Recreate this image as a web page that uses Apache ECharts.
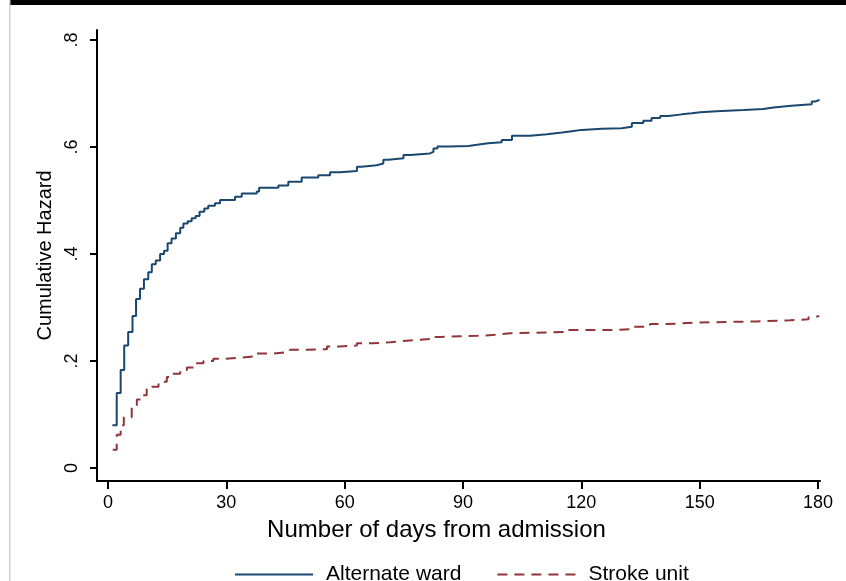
<!DOCTYPE html>
<html>
<head>
<meta charset="utf-8">
<script src="https://cdn.jsdelivr.net/npm/echarts@6/dist/echarts.min.js"></script>
<style>html,body{margin:0;padding:0;background:#fff;}#c{width:846px;height:581px;}</style>
</head>
<body>
<div id="c"></div>
<script>
const seriesNames = ['Alternate ward', 'Stroke unit'];
const blueDays = [1.1, 2.2, 3.2, 4.1, 5.1, 6.2, 7.1, 8.1, 9.1, 10.2, 11.1, 12.1, 13.2, 14.2, 15.1, 16.1, 17.2, 18.3, 19.1, 20.2, 21.2, 22.2, 23.2, 24.4, 25.4, 27.1, 28.4, 32.2, 33.9, 37.7, 38.3, 43.2, 45.7, 49.1, 53.3, 56.3, 58.8, 63.1, 64.3, 68.1, 69.8, 71.1, 74.9, 76.6, 81.6, 82.5, 83.5, 86.3, 91.4, 93.5, 96.4, 99.8, 102.4, 107.0, 111.3, 115.1, 117.1, 120.1, 125.2, 130.2, 132.8, 135.7, 137.8, 140.0, 142.1, 145.5, 148.0, 150.1, 154.3, 161.1, 166.1, 168.7, 173.2, 178.4, 179.3, 180.4];
const blueVals = [0.080, 0.140, 0.183, 0.229, 0.254, 0.284, 0.316, 0.335, 0.353, 0.366, 0.381, 0.388, 0.400, 0.406, 0.420, 0.429, 0.439, 0.449, 0.457, 0.461, 0.467, 0.471, 0.479, 0.485, 0.490, 0.495, 0.501, 0.507, 0.513, 0.517, 0.524, 0.528, 0.535, 0.543, 0.547, 0.553, 0.555, 0.563, 0.566, 0.569, 0.576, 0.579, 0.585, 0.588, 0.591, 0.597, 0.601, 0.602, 0.604, 0.607, 0.609, 0.613, 0.621, 0.624, 0.627, 0.629, 0.632, 0.634, 0.635, 0.638, 0.645, 0.649, 0.654, 0.658, 0.661, 0.663, 0.665, 0.667, 0.669, 0.671, 0.674, 0.677, 0.680, 0.685, 0.688, 0.688];
const redDays = [1.2, 2.2, 3.2, 4.0, 6.0, 7.3, 8.3, 9.8, 11.1, 12.8, 14.9, 16.2, 18.3, 20.0, 22.1, 24.2, 26.7, 29.2, 33.5, 37.7, 41.9, 46.1, 50.4, 55.5, 58.8, 63.1, 67.2, 71.5, 75.7, 81.6, 84.2, 93.5, 98.6, 101.9, 115.4, 129.0, 133.2, 137.4, 141.6, 150.1, 164.5, 172.9, 177.6, 179.0, 180.3];
const redVals = [0.034, 0.062, 0.080, 0.095, 0.116, 0.128, 0.136, 0.147, 0.152, 0.161, 0.170, 0.176, 0.183, 0.188, 0.196, 0.200, 0.204, 0.206, 0.209, 0.214, 0.217, 0.221, 0.222, 0.227, 0.229, 0.233, 0.235, 0.238, 0.241, 0.245, 0.247, 0.249, 0.252, 0.254, 0.258, 0.260, 0.264, 0.269, 0.272, 0.274, 0.276, 0.278, 0.282, 0.284, 0.284];
const xTickVals = [0, 30, 60, 90, 120, 150, 180];
const yTickVals = [0, 0.2, 0.4, 0.6, 0.8];
const yTickLabels = ['0', '.2', '.4', '.6', '.8'];

const FONT = '"Liberation Sans", Arial, sans-serif';
const pair = (xs, ys) => xs.map((x, i) => [x, ys[i]]);

const chart = echarts.init(document.getElementById('c'), null, {renderer: 'canvas'});
chart.setOption({
  backgroundColor: '#ffffff',
  animation: false,
  graphic: [
    {type: 'rect', shape: {x: 9, y: 0, width: 837, height: 5}, style: {fill: '#000'}, silent: true},
    {type: 'rect', shape: {x: 9, y: 0, width: 1.5, height: 581}, style: {fill: '#d0d0d0'}, silent: true}
  ],
  grid: {left: 97, right: 26, top: 30, bottom: 100, containLabel: false},
  xAxis: {
    type: 'value', min: -2.8, max: 180.5,
    splitLine: {show: false},
    axisLine: {show: true, onZero: false, lineStyle: {color: '#000', width: 2}},
    axisTick: {show: true, length: 8, customValues: xTickVals, lineStyle: {color: '#000', width: 2}},
    axisLabel: {customValues: xTickVals, margin: 13, color: '#000', fontSize: 18, fontFamily: FONT},
    name: 'Number of days from admission', nameLocation: 'middle', nameGap: 37,
    nameTextStyle: {color: '#000', fontSize: 24, fontFamily: FONT, padding: [0, 44, 0, 0]}
  },
  yAxis: {
    type: 'value', min: -0.0243, max: 0.8187,
    splitLine: {show: false},
    axisLine: {show: true, onZero: false, lineStyle: {color: '#000', width: 2}},
    axisTick: {show: true, length: 7, customValues: yTickVals, lineStyle: {color: '#000', width: 2}},
    axisLabel: {customValues: yTickVals, rotate: 90, margin: 16, color: '#000', fontSize: 18, fontFamily: FONT,
      formatter: v => { const i = yTickVals.findIndex(t => Math.abs(t - v) < 1e-6); return i >= 0 ? yTickLabels[i] : ''; }},
    name: 'Cumulative Hazard', nameLocation: 'middle', nameGap: 38,
    nameTextStyle: {color: '#000', fontSize: 20, fontFamily: FONT}
  },
  legend: {
    left: 229, top: 559, itemWidth: 78, itemHeight: 14, itemGap: 35,
    itemStyle: {opacity: 0},
    textStyle: {color: '#000', fontSize: 21, fontFamily: FONT, padding: [0, 0, 0, 8]},
    data: seriesNames
  },
  series: [
    {name: seriesNames[0], type: 'line', step: 'end', symbol: 'none', data: pair(blueDays, blueVals),
     lineStyle: {color: '#1a476f', width: 2}, itemStyle: {color: '#1a476f'}},
    {name: seriesNames[1], type: 'line', step: 'end', symbol: 'none', data: pair(redDays, redVals),
     lineStyle: {color: '#90353b', width: 2, type: [10, 7]}, itemStyle: {color: '#90353b'}}
  ]
});
</script>
</body>
</html>
